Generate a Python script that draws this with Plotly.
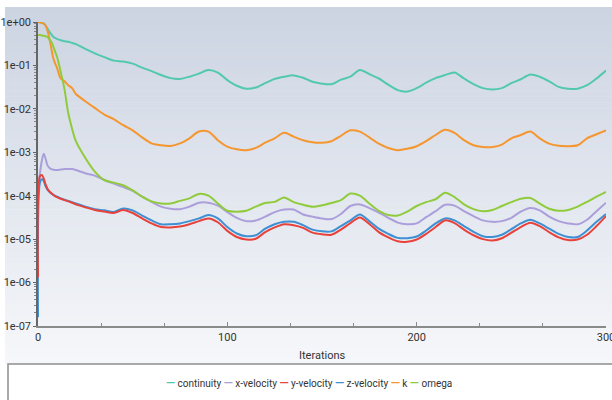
import plotly.graph_objects as go

# Iteration numbers at which the residuals were sampled
iterations = [0, 1, 2, 3, 4, 5, 6, 7, 8, 9, 10, 12, 14, 16, 18, 20,
              25, 30, 35, 40, 45, 50, 55, 60, 65, 70, 75, 80, 85, 90, 95,
              100, 105, 110, 115, 120, 125, 130, 135, 140, 145, 150, 155,
              160, 165, 170, 175, 180, 185, 190, 195, 200, 205, 210, 215,
              220, 225, 230, 235, 240, 245, 250, 255, 260, 265, 270, 275,
              280, 285, 290, 295, 300]

continuity = [1.0, 0.98, 0.95, 0.93, 0.83, 0.71, 0.60, 0.52, 0.46, 0.43, 0.41,
              0.38, 0.36, 0.35, 0.33, 0.31,
              0.24, 0.19, 0.155, 0.129, 0.123, 0.11, 0.089, 0.074, 0.060, 0.051,
              0.049, 0.055, 0.065, 0.078, 0.068,
              0.046, 0.034, 0.029, 0.031, 0.039, 0.049, 0.055, 0.059, 0.052,
              0.042, 0.038, 0.037,
              0.047, 0.055, 0.078, 0.063, 0.050, 0.036, 0.027, 0.025, 0.030,
              0.040, 0.051, 0.060,
              0.069, 0.050, 0.037, 0.030, 0.028, 0.030, 0.039, 0.048, 0.062,
              0.055, 0.043, 0.032,
              0.029, 0.029, 0.035, 0.050, 0.076]

x_velocity = [1.2e-4, 3.2e-4, 6.3e-4, 9.3e-4, 7.1e-4, 5.0e-4, 4.4e-4, 4.1e-4,
              4.0e-4, 3.9e-4, 3.9e-4, 4.0e-4, 4.1e-4, 4.1e-4, 4.1e-4, 3.9e-4,
              3.3e-4, 2.9e-4, 2.3e-4, 1.9e-4, 1.58e-4, 1.29e-4, 9.5e-5, 7.2e-5,
              5.6e-5, 5.0e-5, 4.9e-5, 5.6e-5, 6.9e-5, 6.9e-5, 5.9e-5,
              4.2e-5, 3.1e-5, 2.6e-5, 2.7e-5, 3.3e-5, 4.2e-5, 4.8e-5, 4.8e-5,
              3.7e-5, 3.3e-5, 3.0e-5, 2.9e-5,
              3.8e-5, 5.8e-5, 6.3e-5, 5.2e-5, 4.1e-5, 3.1e-5, 2.4e-5, 2.2e-5,
              2.3e-5, 3.2e-5, 4.4e-5, 6.2e-5,
              5.9e-5, 4.4e-5, 3.4e-5, 2.7e-5, 2.5e-5, 2.6e-5, 3.1e-5, 4.3e-5,
              5.2e-5, 4.6e-5, 3.3e-5, 2.6e-5,
              2.3e-5, 2.2e-5, 2.8e-5, 4.4e-5, 6.9e-5]

y_velocity = [1.3e-6, 2.8e-4, 3.0e-4, 2.5e-4, 1.82e-4, 1.45e-4, 1.26e-4, 1.15e-4,
              1.05e-4, 9.8e-5, 9.3e-5, 8.5e-5, 7.9e-5, 7.4e-5, 6.9e-5, 6.3e-5,
              5.4e-5, 4.7e-5, 4.3e-5, 4.0e-5, 4.7e-5, 4.0e-5, 3.0e-5, 2.3e-5,
              1.9e-5, 1.86e-5, 1.95e-5, 2.2e-5, 2.6e-5, 3.0e-5, 2.45e-5,
              1.55e-5, 1.12e-5, 9.8e-6, 1.02e-5, 1.45e-5, 1.86e-5, 2.2e-5, 2.1e-5,
              1.82e-5, 1.41e-5, 1.29e-5, 1.26e-5,
              1.66e-5, 2.34e-5, 3.16e-5, 2.24e-5, 1.45e-5, 1.1e-5, 8.9e-6, 8.7e-6,
              9.8e-6, 1.32e-5, 1.9e-5, 2.7e-5,
              2.34e-5, 1.66e-5, 1.23e-5, 1.0e-5, 9.3e-6, 1.05e-5, 1.41e-5, 1.9e-5,
              2.4e-5, 2.0e-5, 1.45e-5, 1.1e-5,
              9.5e-6, 9.8e-6, 1.26e-5, 2.0e-5, 3.4e-5]

z_velocity = [1.6e-7, 2.0e-4, 2.4e-4, 2.2e-4, 1.66e-4, 1.38e-4, 1.23e-4, 1.12e-4,
              1.05e-4, 1.0e-4, 9.5e-5, 8.7e-5, 8.1e-5, 7.6e-5, 7.1e-5, 6.6e-5,
              5.6e-5, 4.9e-5, 4.6e-5, 4.2e-5, 5.1e-5, 4.6e-5, 3.5e-5, 2.7e-5,
              2.2e-5, 2.2e-5, 2.3e-5, 2.6e-5, 3.0e-5, 3.6e-5, 3.0e-5,
              1.9e-5, 1.35e-5, 1.17e-5, 1.23e-5, 1.74e-5, 2.2e-5, 2.5e-5, 2.5e-5,
              2.1e-5, 1.66e-5, 1.51e-5, 1.51e-5,
              2.0e-5, 2.7e-5, 3.7e-5, 2.6e-5, 1.74e-5, 1.32e-5, 1.07e-5, 1.05e-5,
              1.15e-5, 1.58e-5, 2.3e-5, 3.0e-5,
              2.7e-5, 2.0e-5, 1.48e-5, 1.17e-5, 1.12e-5, 1.26e-5, 1.7e-5, 2.3e-5,
              2.8e-5, 2.3e-5, 1.74e-5, 1.32e-5,
              1.12e-5, 1.12e-5, 1.58e-5, 2.5e-5, 3.8e-5]

k = [1.0, 0.98, 0.95, 0.91, 0.83, 0.63, 0.42, 0.25, 0.15, 0.112, 0.089,
     0.050, 0.043, 0.035, 0.030, 0.022,
     0.015, 0.0105, 0.0074, 0.0058, 0.0042, 0.0032, 0.0022, 0.0016, 0.00145,
     0.0014, 0.0016, 0.0021, 0.0030, 0.0030, 0.0019,
     0.00135, 0.00117, 0.00112, 0.00126, 0.00166, 0.0021, 0.0028, 0.0023,
     0.0019, 0.0017, 0.00166, 0.0018,
     0.0024, 0.0032, 0.0030, 0.0022, 0.00158, 0.00126, 0.00112, 0.0012,
     0.00138, 0.0018, 0.0025, 0.0033,
     0.0028, 0.0019, 0.00145, 0.00132, 0.00132, 0.0015, 0.0021, 0.0025,
     0.0030, 0.0021, 0.00158, 0.00141,
     0.00138, 0.00145, 0.0021, 0.0026, 0.0032]

omega = [0.50, 0.50, 0.49, 0.48, 0.47, 0.45, 0.40, 0.35, 0.28, 0.21, 0.16,
         0.071, 0.028, 0.0079, 0.0035, 0.0018,
         7.4e-4, 3.6e-4, 2.3e-4, 2.0e-4, 1.74e-4, 1.32e-4, 9.5e-5, 7.4e-5,
         6.6e-5, 6.6e-5, 7.6e-5, 8.7e-5, 1.1e-4, 1.0e-4, 6.6e-5,
         4.5e-5, 4.3e-5, 4.5e-5, 5.6e-5, 6.8e-5, 7.2e-5, 9.1e-5, 7.1e-5,
         6.2e-5, 5.6e-5, 6.0e-5, 6.8e-5,
         7.9e-5, 1.12e-4, 1.0e-4, 6.6e-5, 4.5e-5, 3.6e-5, 3.5e-5, 4.3e-5,
         5.8e-5, 7.1e-5, 8.3e-5, 1.17e-4,
         9.3e-5, 6.3e-5, 4.9e-5, 4.4e-5, 4.7e-5, 5.8e-5, 7.1e-5, 8.5e-5,
         8.9e-5, 6.6e-5, 5.0e-5, 4.5e-5,
         4.7e-5, 5.6e-5, 7.2e-5, 9.5e-5, 1.23e-4]

series_names = ["continuity", "x-velocity", "y-velocity", "z-velocity", "k", "omega"]
series_values = [continuity, x_velocity, y_velocity, z_velocity, k, omega]
series_colors = ["#52c9ae", "#ab9fdb", "#e8423b", "#3f8fd3", "#f5962f", "#8fcb3b"]

y_tick_vals = [1e0, 1e-1, 1e-2, 1e-3, 1e-4, 1e-5, 1e-6, 1e-7]
y_tick_text = ["1e+00", "1e-01", "1e-02", "1e-03", "1e-04", "1e-05", "1e-06", "1e-07"]
x_tick_vals = [0, 100, 200, 300]

W, H = 612, 400
M_L, M_R, M_T, M_B = 38, 6, 22, 74
plot_w = W - M_L - M_R
plot_h = H - M_T - M_B

def px_x(px):
    return (px - M_L) / plot_w

def px_y(py):
    return (H - M_B - py) / plot_h

fig = go.Figure()

# Residual curves (continuity/k/omega drawn last so they sit on top)
draw_order = [1, 3, 2, 0, 4, 5]
for i in draw_order:
    fig.add_trace(go.Scatter(
        x=iterations, y=series_values[i], mode="lines", name=series_names[i],
        line=dict(color=series_colors[i], width=2, shape="spline", smoothing=0.8),
        showlegend=False,
    ))

# Vertical gradient backdrop behind the chart area
shapes = []
top_rgb = (204, 212, 226)
bot_rgb = (246, 247, 250)
y_top, y_bot = 7, 364
bands = 60
for b in range(bands):
    t = b / (bands - 1)
    c = tuple(round(top_rgb[j] + (bot_rgb[j] - top_rgb[j]) * t) for j in range(3))
    ya = y_top + (y_bot - y_top) * b / bands
    yb = y_top + (y_bot - y_top) * (b + 1) / bands
    shapes.append(dict(
        type="rect", xref="paper", yref="paper", layer="below",
        x0=px_x(5), x1=px_x(W + 2), y0=px_y(yb + 0.5), y1=px_y(ya),
        fillcolor="rgb(%d,%d,%d)" % c, line=dict(width=0),
    ))

# Legend frame
shapes.append(dict(
    type="rect", xref="paper", yref="paper", layer="above",
    x0=px_x(8), x1=px_x(W + 4), y0=px_y(H + 4), y1=px_y(364),
    fillcolor="white", line=dict(color="#8f8f8f", width=1.5),
))

# Legend entries as coloured dashes followed by the series names
legend_text = " ".join(
    '<span style="fill:%s;font-weight:bold;font-size:12px">—</span> %s' % (c, n)
    for n, c in zip(series_names, series_colors)
)

fig.update_layout(
    width=W, height=H,
    margin=dict(l=M_L, r=M_R, t=M_T, b=M_B, pad=0, autoexpand=False),
    paper_bgcolor="white",
    plot_bgcolor="rgba(0,0,0,0)",
    font=dict(family="Roboto, sans-serif", size=11, color="#333333"),
    shapes=shapes,
    annotations=[
        dict(text=legend_text, xref="paper", yref="paper",
             x=px_x(309), y=px_y(383), xanchor="center", yanchor="middle",
             showarrow=False, font=dict(size=10, color="#333333")),
        dict(text="Iterations", xref="paper", yref="paper",
             x=px_x(322), y=px_y(355), xanchor="center", yanchor="middle",
             showarrow=False, font=dict(size=11, color="#333333")),
    ],
    xaxis=dict(
        range=[0, 300], tickvals=x_tick_vals, showgrid=False, zeroline=False,
        automargin=False, ticklabeloverflow="allow",
        showline=True, linecolor="#8a8a8a", linewidth=2,
        ticks="inside", ticklen=4, tickcolor="#8a8a8a",
        minor=dict(tickvals=[100 / 3, 200 / 3, 400 / 3, 500 / 3, 700 / 3, 800 / 3],
                   ticks="inside", ticklen=3, tickcolor="#8a8a8a"),
        tickfont=dict(size=11, color="#333333"),
    ),
    yaxis=dict(
        type="log", range=[-7, 0], tickvals=y_tick_vals, ticktext=y_tick_text,
        showgrid=False, zeroline=False, automargin=False,
        ticklabeloverflow="allow",
        showline=True, linecolor="#666666", linewidth=1.5,
        ticks="outside", ticklen=3, tickcolor="#666666",
        minor=dict(ticks="outside", ticklen=2, tickcolor="#888888", dtick="D1"),
        tickfont=dict(size=11, color="#333333"),
    ),
)

fig.write_html("out.html")
